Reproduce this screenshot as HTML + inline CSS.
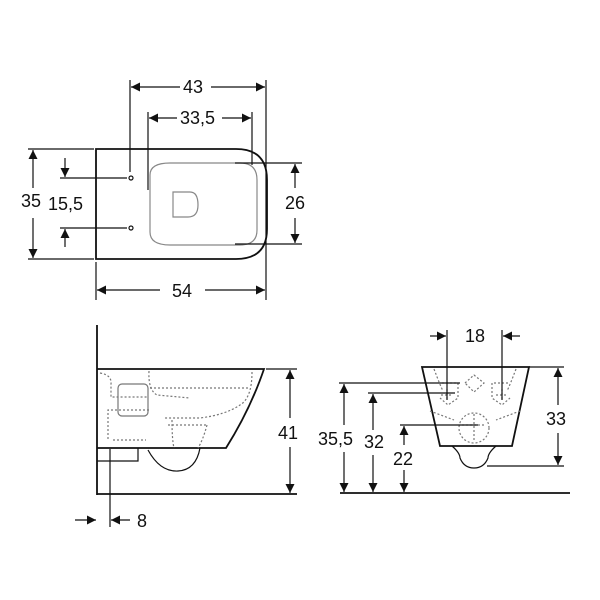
<!DOCTYPE html>
<html><head><style>body{margin:0;background:#fff}svg{display:block}text{font-family:"Liberation Sans",sans-serif;font-size:18px;fill:#111}</style></head><body>
<svg width="600" height="600" viewBox="0 0 600 600">
<defs>
<marker id="a" viewBox="0 0 10 10" refX="10" refY="5" markerWidth="11" markerHeight="9" orient="auto-start-reverse" markerUnits="userSpaceOnUse"><path d="M0,0L10,5L0,10z" fill="#111"/></marker>
</defs>
<g stroke="#111" stroke-width="1.2" fill="none">
<!-- TOP VIEW -->
<path d="M96,149H236Q267,149 267,180V229Q267,259 236,259H96Z" stroke-width="1.8"/>
<path d="M150,175Q150,163 170,163H240Q257,163 257,180V230Q257,245 240,245H170Q150,245 150,232Z" stroke="#888"/>
<path d="M173,192H190Q198,192 198,205Q198,217 188,217H173Z" stroke="#888"/>
<circle cx="131" cy="178" r="2"/><circle cx="131" cy="228" r="2"/>
<line x1="130" y1="80" x2="130" y2="172"/><line x1="266" y1="80" x2="266" y2="300"/>
<line x1="148" y1="112" x2="148" y2="190"/><line x1="252" y1="112" x2="252" y2="165"/>
<line x1="96" y1="262" x2="96" y2="300"/>
<line x1="28" y1="149" x2="94" y2="149"/><line x1="28" y1="259" x2="94" y2="259"/>
<line x1="60" y1="178" x2="127" y2="178"/><line x1="60" y1="228" x2="127" y2="228"/>
<line x1="235" y1="163" x2="302" y2="163"/><line x1="235" y1="244" x2="302" y2="244"/>
<line x1="131" y1="87" x2="180" y2="87" marker-start="url(#a)"/><line x1="211" y1="87" x2="265" y2="87" marker-end="url(#a)"/>
<line x1="149" y1="118" x2="177" y2="118" marker-start="url(#a)"/><line x1="222" y1="118" x2="251" y2="118" marker-end="url(#a)"/>
<line x1="33" y1="150" x2="33" y2="188" marker-start="url(#a)"/><line x1="33" y1="218" x2="33" y2="258" marker-end="url(#a)"/>
<line x1="65" y1="158" x2="65" y2="177" marker-end="url(#a)"/><line x1="65" y1="229" x2="65" y2="247" marker-start="url(#a)"/>
<line x1="295" y1="164" x2="295" y2="188" marker-start="url(#a)"/><line x1="295" y1="218" x2="295" y2="243" marker-end="url(#a)"/>
<line x1="97" y1="290" x2="160" y2="290" marker-start="url(#a)"/><line x1="205" y1="290" x2="265" y2="290" marker-end="url(#a)"/>
<!-- SIDE VIEW -->
<line x1="97" y1="325" x2="97" y2="495" stroke-width="1.8"/>
<line x1="97" y1="494" x2="297" y2="494" stroke-width="1.8"/>
<path d="M97,369H264Q250,410 226,448H97" stroke-width="1.8"/>
<path d="M148,450Q160,472 178,471Q196,470 200,448"/>
<path d="M97,461H138V448"/>
<rect x="118" y="384" width="30" height="32" rx="4" stroke="#777"/>
<g stroke="#777" stroke-dasharray="2,2">
<path d="M100,373Q112,375 111,384V397H148"/><path d="M149,371Q148,390 157,395L190,398"/>
<path d="M149,410H108V440"/><path d="M113,440H146"/>
<path d="M150,388H248"/><path d="M252,372Q252,398 240,405Q225,415 200,418H165"/>
<path d="M168,425H206"/><path d="M172,420Q172,440 174,448"/><path d="M207,425Q203,440 198,448"/>
</g>
<line x1="110" y1="449" x2="110" y2="527"/>
<line x1="266" y1="369" x2="297" y2="369"/>
<line x1="290" y1="370" x2="290" y2="418" marker-start="url(#a)"/><line x1="290" y1="447" x2="290" y2="493" marker-end="url(#a)"/>
<line x1="75" y1="520" x2="96" y2="520" marker-end="url(#a)"/><line x1="111" y1="520" x2="130" y2="520" marker-start="url(#a)"/>
<!-- FRONT VIEW -->
<path d="M422,367H529L512,446H440Z" stroke-width="1.8"/>
<path d="M452,446Q460,453 460,458Q464,468 474,468Q484,468 488,458Q488,453 496,446"/>
<line x1="340" y1="493" x2="570" y2="493" stroke-width="1.8"/>
<g stroke="#777" stroke-dasharray="2,2">
<circle cx="474" cy="428" r="15"/><path d="M465,383L474,375L484,383L474,392Z"/>
<path d="M434,369Q440,385 443,391"/><path d="M516,369Q510,385 507,391"/>
<path d="M430,411L454,420"/><path d="M520,411L496,420"/>
<path d="M442,383H458V398L448,405L440,398"/><path d="M508,383H492V398L502,405L510,398"/>
<path d="M441,395H453M447,389V401M496,395H508M502,389V401M462,425H486M474,414V440"/>
</g>
<line x1="447" y1="330" x2="447" y2="400"/><line x1="502" y1="330" x2="502" y2="400"/>
<line x1="430" y1="336" x2="446" y2="336" marker-end="url(#a)"/><line x1="503" y1="336" x2="520" y2="336" marker-start="url(#a)"/>
<line x1="339" y1="383" x2="460" y2="383"/><line x1="368" y1="393" x2="455" y2="393"/><line x1="400" y1="425" x2="478" y2="425"/>
<line x1="529" y1="367" x2="564" y2="367"/><line x1="487" y1="466" x2="564" y2="466"/>
<line x1="558" y1="368" x2="558" y2="405" marker-start="url(#a)"/><line x1="558" y1="433" x2="558" y2="465" marker-end="url(#a)"/>
<line x1="344" y1="384" x2="344" y2="425" marker-start="url(#a)"/><line x1="344" y1="452" x2="344" y2="492" marker-end="url(#a)"/>
<line x1="373" y1="394" x2="373" y2="430" marker-start="url(#a)"/><line x1="373" y1="455" x2="373" y2="492" marker-end="url(#a)"/>
<line x1="404" y1="426" x2="404" y2="445" marker-start="url(#a)"/><line x1="404" y1="470" x2="404" y2="492" marker-end="url(#a)"/>
</g>
<text x="183" y="93">43</text><text x="180" y="124">33,5</text>
<text x="21" y="207">35</text><text x="48" y="210">15,5</text>
<text x="285" y="209">26</text><text x="172" y="297">54</text>
<text x="278" y="439">41</text><text x="137" y="527">8</text>
<text x="465" y="342">18</text><text x="546" y="425">33</text>
<text x="318" y="445">35,5</text><text x="364" y="448">32</text><text x="393" y="465">22</text>
</svg>
</body></html>
